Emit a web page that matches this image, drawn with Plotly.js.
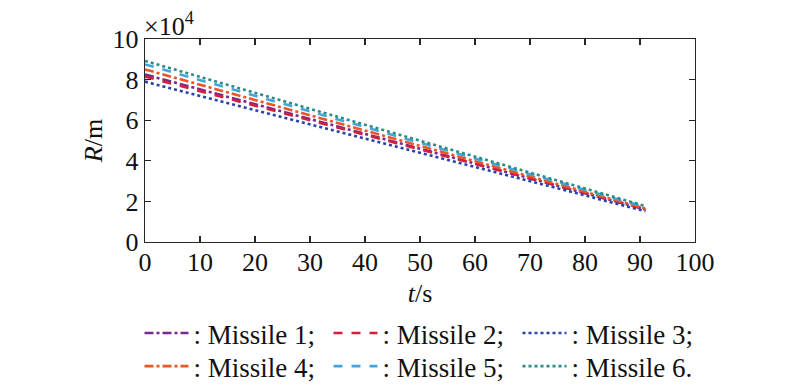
<!DOCTYPE html>
<html>
<head>
<meta charset="utf-8">
<script src="https://cdn.plot.ly/plotly-3.0.1.min.js"></script>
<style>
  html, body { margin: 0; padding: 0; background: #fff; }
  #chart { width: 800px; height: 386px; }
</style>
</head>
<body>
<div id="chart"></div>
<script>
// Time (s) at start and end of each trajectory
const timeS = [0, 91];
// Range R in units of 10^4 m
const missile1 = [8.25, 1.60];
const missile2 = [8.15, 1.62];
const missile3 = [7.90, 1.52];
const missile4 = [8.50, 1.65];
const missile5 = [8.75, 1.72];
const missile6 = [8.92, 1.77];
const seriesNames = [': Missile 1;', ': Missile 2;', ': Missile 3;', ': Missile 4;', ': Missile 5;', ': Missile 6.'];
const xTicks = [0, 10, 20, 30, 40, 50, 60, 70, 80, 90, 100];
const yTicks = [0, 2, 4, 6, 8, 10];

const seriesData = [missile1, missile2, missile3, missile4, missile5, missile6];
const colors = ['#7A2A8E', '#D2213D', '#2A43A8', '#EC5625', '#43A6DA', '#2A8C88'];
const dashes = ['dashdot', 'dash', 'dot', 'dashdot', 'dash', 'dot'];
const legendRow = ['legend', 'legend', 'legend', 'legend2', 'legend2', 'legend2'];

const traces = seriesData.map((ys, i) => ({
  x: timeS,
  y: ys,
  type: 'scatter',
  mode: 'lines',
  name: seriesNames[i],
  legend: legendRow[i],
  line: { color: colors[i], width: 2.6, dash: dashes[i] }
}));

const font = { family: '"Liberation Serif", "Times New Roman", Times, serif', color: '#111' };

function legendRowStyle(yPos) {
  return {
    orientation: 'h',
    x: -0.01,
    xanchor: 'left',
    y: yPos,
    yanchor: 'top',
    itemwidth: 44,
    entrywidth: 130,
    entrywidthmode: 'pixels',
    font: Object.assign({ size: 27 }, font),
    bgcolor: 'rgba(0,0,0,0)',
    tracegroupgap: 0
  };
}

const layout = {
  width: 800,
  height: 386,
  margin: { l: 145, r: 105, t: 39, b: 144, autoexpand: false },
  paper_bgcolor: '#fff',
  plot_bgcolor: '#fff',
  font: Object.assign({ size: 26 }, font),
  showlegend: true,
  legend: legendRowStyle(-0.330),
  legend2: legendRowStyle(-0.493),
  xaxis: {
    range: [0, 100],
    tickvals: xTicks,
    ticktext: xTicks.map(String),
    ticks: 'inside',
    ticklen: 6,
    tickwidth: 1.3,
    tickcolor: '#262626',
    showline: true,
    linecolor: '#262626',
    linewidth: 1.3,
    mirror: 'ticks',
    showgrid: false,
    zeroline: false,
    automargin: false,
    ticklabelstandoff: -4,
    tickfont: Object.assign({ size: 26 }, font),
    title: { text: '<i>t</i>/s', font: Object.assign({ size: 26 }, font), standoff: 8 }
  },
  yaxis: {
    range: [0, 10],
    tickvals: yTicks,
    ticktext: yTicks.map(String),
    ticks: 'inside',
    ticklen: 6,
    tickwidth: 1.3,
    tickcolor: '#262626',
    showline: true,
    linecolor: '#262626',
    linewidth: 1.3,
    mirror: 'ticks',
    showgrid: false,
    zeroline: false,
    automargin: false,
    tickfont: Object.assign({ size: 26 }, font),
    title: { text: '<i>R</i>/m', font: Object.assign({ size: 26 }, font), standoff: 2 }
  },
  annotations: [{
    text: '×10<sup>4</sup>',
    xref: 'paper', yref: 'paper',
    x: 0, y: 1,
    xanchor: 'left', yanchor: 'bottom',
    showarrow: false,
    font: Object.assign({ size: 26 }, font),
    xshift: -3,
    yshift: -4
  }]
};

Plotly.newPlot('chart', traces, layout, { displayModeBar: false, staticPlot: true });
</script>
</body>
</html>
